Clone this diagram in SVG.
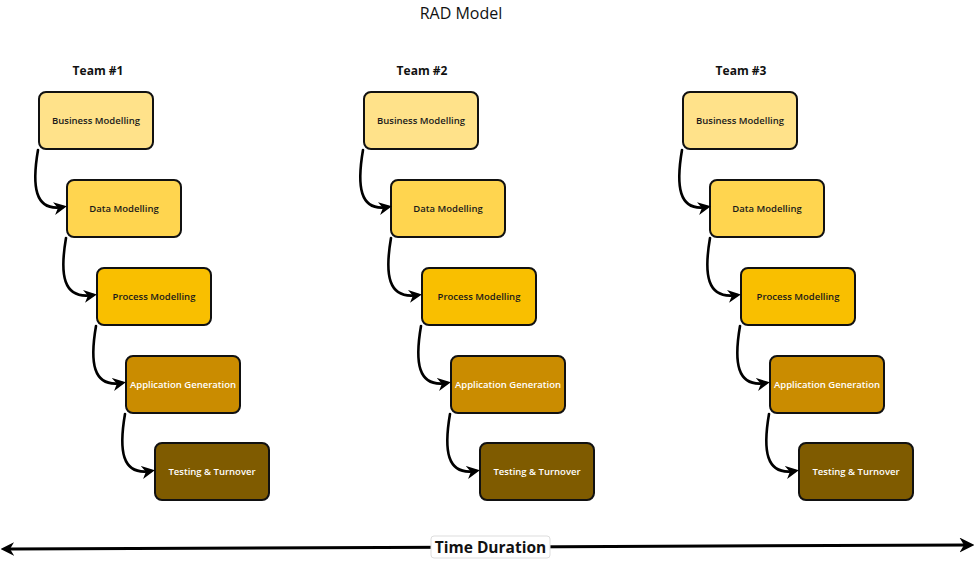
<svg xmlns="http://www.w3.org/2000/svg" width="980" height="562" viewBox="0 0 980 562">
<defs>
<marker id="ah" viewBox="0 0 10 10" refX="7" refY="5" markerWidth="5" markerHeight="5" orient="auto" markerUnits="strokeWidth">
<path d="M0,0 L10,5 L0,10 L3,5 Z" fill="#000"/>
</marker>
<marker id="ahs" viewBox="0 0 10 10" refX="3" refY="5" markerWidth="4.5" markerHeight="4.5" orient="auto-start-reverse" markerUnits="strokeWidth">
<path d="M0,0 L10,5 L0,10 L3,5 Z" fill="#000"/>
</marker>
<g id="chain">
<path class="c" d="M38,150 C32,185 34,212 63,207"/>
<path class="c" d="M66,238 C60,273 62,300 93,295"/>
<path class="c" d="M96,326 C90,361 92,388 122,383"/>
<path class="c" d="M125,414 C119,449 121,476 151,471"/>
</g>
</defs>
<style>
.box{stroke:#111;stroke-width:2;}
.lbl{font-family:"Open Sans","DejaVu Sans",sans-serif;font-size:9.5px;font-weight:600;text-anchor:middle;dominant-baseline:central;}
.dk{fill:#1a1a1a;}
.wt{fill:#fff;}
.team{font-family:"Open Sans","DejaVu Sans",sans-serif;font-size:12px;font-weight:bold;text-anchor:middle;fill:#111;}
.c{fill:none;stroke:#000;stroke-width:2.6;stroke-linecap:round;marker-end:url(#ah);}
.b1{fill:#FFE28A;}
.b2{fill:#FFD54F;}
.b3{fill:#F9BF00;}
.b4{fill:#CA8C00;}
.b5{fill:#7F5B00;}
</style>
<rect width="980" height="562" fill="#fff"/>
<text x="461" y="19" font-family="Open Sans, DejaVu Sans, sans-serif" font-size="16" text-anchor="middle" fill="#111">RAD Model</text>

<g id="team1">
<text class="team" x="98" y="75">Team #1</text>
<g id="t1-business"><rect class="box b1" x="39" y="92" width="114" height="57" rx="7"/><text class="lbl dk" x="96" y="120">Business Modelling</text></g>
<g id="t1-data"><rect class="box b2" x="67" y="180" width="114" height="57" rx="7"/><text class="lbl dk" x="124" y="208">Data Modelling</text></g>
<g id="t1-process"><rect class="box b3" x="97" y="268" width="114" height="57" rx="7"/><text class="lbl dk" x="154" y="296">Process Modelling</text></g>
<g id="t1-app"><rect class="box b4" x="126" y="356" width="114" height="57" rx="7"/><text class="lbl wt" x="183" y="384">Application Generation</text></g>
<g id="t1-test"><rect class="box b5" x="155" y="443" width="114" height="57" rx="7"/><text class="lbl wt" x="212" y="471">Testing &amp; Turnover</text></g>
</g>

<g id="team2">
<text class="team" x="422" y="75">Team #2</text>
<g id="t2-business"><rect class="box b1" x="364" y="92" width="114" height="57" rx="7"/><text class="lbl dk" x="421" y="120">Business Modelling</text></g>
<g id="t2-data"><rect class="box b2" x="391" y="180" width="114" height="57" rx="7"/><text class="lbl dk" x="448" y="208">Data Modelling</text></g>
<g id="t2-process"><rect class="box b3" x="422" y="268" width="114" height="57" rx="7"/><text class="lbl dk" x="479" y="296">Process Modelling</text></g>
<g id="t2-app"><rect class="box b4" x="451" y="356" width="114" height="57" rx="7"/><text class="lbl wt" x="508" y="384">Application Generation</text></g>
<g id="t2-test"><rect class="box b5" x="480" y="443" width="114" height="57" rx="7"/><text class="lbl wt" x="537" y="471">Testing &amp; Turnover</text></g>
</g>

<g id="team3">
<text class="team" x="741" y="75">Team #3</text>
<g id="t3-business"><rect class="box b1" x="683" y="92" width="114" height="57" rx="7"/><text class="lbl dk" x="740" y="120">Business Modelling</text></g>
<g id="t3-data"><rect class="box b2" x="710" y="180" width="114" height="57" rx="7"/><text class="lbl dk" x="767" y="208">Data Modelling</text></g>
<g id="t3-process"><rect class="box b3" x="741" y="268" width="114" height="57" rx="7"/><text class="lbl dk" x="798" y="296">Process Modelling</text></g>
<g id="t3-app"><rect class="box b4" x="770" y="356" width="114" height="57" rx="7"/><text class="lbl wt" x="827" y="384">Application Generation</text></g>
<g id="t3-test"><rect class="box b5" x="799" y="443" width="114" height="57" rx="7"/><text class="lbl wt" x="856" y="471">Testing &amp; Turnover</text></g>
</g>

<g id="connectors">
<use href="#chain"/>
<use href="#chain" transform="translate(325,0)"/>
<use href="#chain" transform="translate(644,0)"/>
<path d="M10,549 L970,545" fill="none" stroke="#000" stroke-width="3" marker-start="url(#ahs)" marker-end="url(#ah)"/>
</g>

<g id="time-duration">
<rect x="431" y="536" width="119" height="22" rx="3" fill="#fff" stroke="#ddd" stroke-width="1"/>
<text x="490.5" y="553" font-family="Open Sans, DejaVu Sans, sans-serif" font-size="15.5" font-weight="bold" text-anchor="middle" fill="#111">Time Duration</text>
</g>
</svg>
